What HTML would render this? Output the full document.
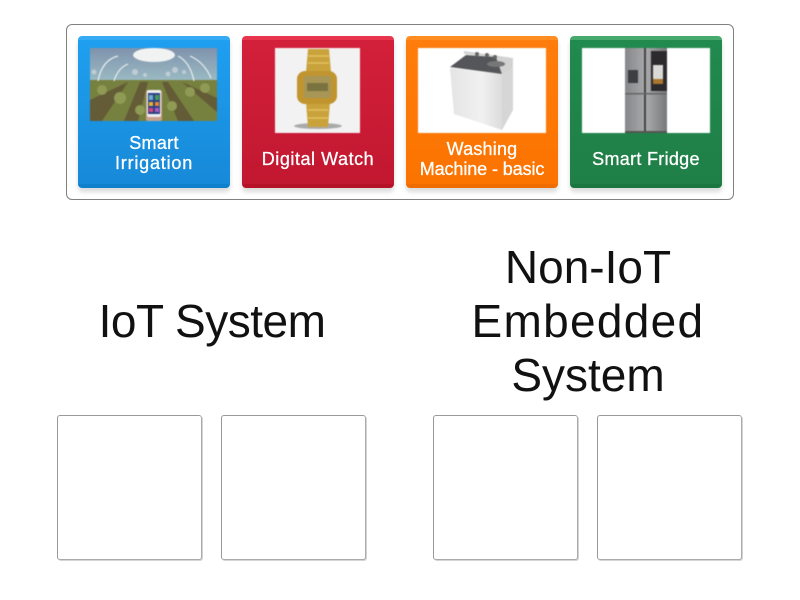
<!DOCTYPE html>
<html>
<head>
<meta charset="utf-8">
<style>
html,body{margin:0;padding:0;background:#fff;width:800px;height:600px;overflow:hidden}
body{position:relative;font-family:"Liberation Sans","DejaVu Sans",sans-serif}
.abs{position:absolute}
.tray{left:66px;top:24px;width:666px;height:174px;border:1px solid #808080;border-radius:6px}
.card{position:absolute;top:36px;width:152px;height:152px;border-radius:4px;box-shadow:0 4px 5px rgba(0,0,0,.14)}
.card .inner{position:absolute;left:0;top:0;right:0;bottom:0;border-radius:4px}
.lbl{position:absolute;color:#fff;font-size:18px;line-height:20px;text-align:center;left:0;width:152px;-webkit-text-stroke:.3px #fff;white-space:nowrap}
.hd{position:absolute;color:#111;font-size:46px;line-height:54px;text-align:center}
.box{position:absolute;top:415px;width:143px;height:143px;border:1px solid #999;border-bottom-color:#aaa;border-right-color:#aaa;border-radius:3px;background:#fff;box-shadow:1px 1px 0 #d4d4d4}
svg{position:absolute;display:block;filter:blur(.4px)}
</style>
</head>
<body>
<div class="abs tray"></div>

<div class="card" style="left:78px">
 <div class="inner" style="background:linear-gradient(#1f9ff0,#1789d8);border-top:4px solid #35aaf5;box-sizing:border-box;border-bottom:4px solid #0f80cc"></div>
 <svg style="left:12px;top:12px" width="127" height="73" viewBox="0 0 127 73">
  <defs><linearGradient id="sky" x1="0" y1="0" x2="0" y2="1"><stop offset="0" stop-color="#7f93ad"/><stop offset="1" stop-color="#9cbcc4"/></linearGradient></defs>
  <rect width="127" height="34" fill="url(#sky)"/>
  <rect y="32" width="127" height="41" fill="#76803f"/>
  <path d="M0 52L38 34L12 73H0ZM50 34L34 73H48L58 34ZM72 34L88 73H104L78 34ZM92 34L127 64V50Z" fill="#5d4c34" opacity=".7"/>
  <g fill="#8f9a55"><circle cx="12" cy="42" r="5"/><circle cx="30" cy="50" r="6"/><circle cx="100" cy="44" r="5"/><circle cx="115" cy="40" r="5"/><circle cx="50" cy="62" r="5"/><circle cx="82" cy="58" r="5"/></g>
  <ellipse cx="64" cy="7" rx="21" ry="7" fill="#f1f3f3"/>
  <g fill="none" stroke="#e8eef0" stroke-width="1.2">
   <path d="M8 33Q12 12 28 8"/><path d="M24 33Q28 20 38 16"/><path d="M104 33Q100 14 88 8"/><path d="M121 30Q114 14 100 8"/>
  </g>
  <g fill="#c9d3da" opacity=".8"><circle cx="4" cy="24" r="2.5"/><circle cx="45" cy="24" r="3"/><circle cx="55" cy="27" r="2"/><circle cx="85" cy="22" r="3"/><circle cx="94" cy="24" r="2"/><circle cx="78" cy="26" r="2.5"/></g>
  <rect x="56" y="42" width="16" height="31" rx="2" fill="#c9a08a"/>
  <rect x="57" y="42" width="14" height="27" rx="2" fill="#eef0f0"/>
  <rect x="58" y="45" width="12" height="21" fill="#2d3f86"/>
  <rect x="59" y="47" width="4" height="5" fill="#6fb0c9"/><rect x="65" y="47" width="4" height="5" fill="#3f9f55"/>
  <rect x="59" y="54" width="4" height="4" fill="#e7b52c"/><rect x="65" y="54" width="4" height="4" fill="#e68a2e"/>
  <rect x="59" y="60" width="4" height="4" fill="#d8457a"/><rect x="65" y="60" width="4" height="4" fill="#b05cc0"/>
 </svg>
 <div class="lbl" style="top:97px"><span style="letter-spacing:.3px">Smart</span><br><span style="letter-spacing:.8px">Irrigation</span></div>
</div>

<div class="card" style="left:242px">
 <div class="inner" style="background:linear-gradient(#d3203a,#c21730);border-top:4px solid #e8344c;box-sizing:border-box;border-bottom:4px solid #b5122a"></div>
 <svg style="left:33px;top:12px" width="85" height="85" viewBox="0 0 85 85">
  <rect width="85" height="85" fill="#f2f2f2"/>
  <ellipse cx="43" cy="78" rx="24" ry="3" fill="#aaa"/>
  <path d="M33 1H54L56 24H31Z" fill="#c9a23c"/>
  <path d="M31 54H55L53 79H33Z" fill="#c9a23c"/>
  <rect x="22" y="23" width="40" height="33" rx="8" fill="#c09530"/>
  <rect x="29" y="28" width="27" height="22" rx="2" fill="#a79655"/>
  <rect x="32" y="35" width="21" height="8" fill="#7a7340"/>
  <path d="M33 8H54M33 15H54M33 62H53M33 70H53" stroke="#e3c160" stroke-width="1.5"/>
 </svg>
 <div class="lbl" style="top:113px;letter-spacing:.55px">Digital Watch</div>
</div>

<div class="card" style="left:406px">
 <div class="inner" style="background:linear-gradient(#ff7d0c,#fb7300);border-top:4px solid #ff8d22;box-sizing:border-box;border-bottom:4px solid #ef6c00"></div>
 <svg style="left:12px;top:12px" width="128" height="85" viewBox="0 0 128 85">
  <defs><linearGradient id="wb" x1="0" y1="0" x2="1" y2="0"><stop offset="0" stop-color="#e4e4e4"/><stop offset=".6" stop-color="#f1f1f1"/><stop offset="1" stop-color="#dcdcdc"/></linearGradient></defs>
  <rect width="128" height="85" fill="#fff"/>
  <path d="M32 20L84 26V82L36 66Z" fill="url(#wb)"/>
  <path d="M84 26L95 20V62L84 82Z" fill="#d6d6d6"/>
  <path d="M32 19L48 7L78 9L84 26Z" fill="#55565a"/>
  <path d="M46 3L95 10L95 20L84 26L78 9L46 6Z" fill="#d2d2d2"/>
  <circle cx="59" cy="6" r="2" fill="#666"/><circle cx="69" cy="7" r="2" fill="#666"/><circle cx="77" cy="9" r="2" fill="#666"/>
  <ellipse cx="78" cy="16" rx="9" ry="3" fill="#777"/>
 </svg>
 <div class="lbl" style="top:103px;font-size:18px"><span style="letter-spacing:.2px">Washing</span><br><span style="letter-spacing:-.1px">Machine - basic</span></div>
</div>

<div class="card" style="left:570px">
 <div class="inner" style="background:linear-gradient(#218a4e,#1f7f47);border-top:4px solid #46a96e;box-sizing:border-box;border-bottom:4px solid #1a7740"></div>
 <svg style="left:12px;top:12px" width="128" height="85" viewBox="0 0 128 85">
  <rect width="128" height="85" fill="#fff"/>
  <defs><linearGradient id="st" x1="0" y1="0" x2="1" y2="0"><stop offset="0" stop-color="#86878a"/><stop offset=".5" stop-color="#a9aaac"/><stop offset="1" stop-color="#77787a"/></linearGradient></defs>
  <rect x="43" width="42" height="85" fill="url(#st)"/>
  <rect x="62" width="2" height="85" fill="#444"/>
  <rect x="43" y="45" width="42" height="1.5" fill="#666"/>
  <rect x="69" y="3" width="16" height="40" fill="#2c2a2c"/>
  <rect x="71" y="17" width="10" height="14" fill="#d9d9d6"/>
  <rect x="71" y="31" width="10" height="5" fill="#a9772f"/>
  <rect x="46" y="22" width="10" height="13" fill="#3d3e40"/>
  <rect x="43" y="83" width="42" height="2" fill="#555"/>
 </svg>
 <div class="lbl" style="top:113px;letter-spacing:.3px">Smart Fridge</div>
</div>

<div class="hd" style="left:57px;width:310px;top:294px;letter-spacing:-.5px">IoT System</div>
<div class="hd" style="left:433px;width:310px;top:240px">Non-IoT<br><span style="letter-spacing:1.3px">Embedded</span><br>System</div>

<div class="box" style="left:57px"></div>
<div class="box" style="left:221px"></div>
<div class="box" style="left:433px"></div>
<div class="box" style="left:597px"></div>
</body>
</html>
